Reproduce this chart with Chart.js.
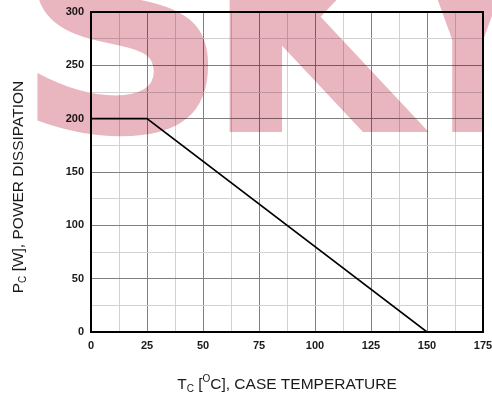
<!DOCTYPE html>
<html>
<head>
<meta charset="utf-8">
<script src="https://cdn.jsdelivr.net/npm/chart.js@4.4.0/dist/chart.umd.min.js"></script>
<style>
  html, body { margin: 0; padding: 0; background: #fff; }
  #wrap { width: 492px; height: 401px; }
</style>
</head>
<body>
<div id="wrap"><canvas id="derating"></canvas></div>
<script>
// derating curve: case temperature vs power dissipation
const caseTemp = [0, 25, 150];
const powerDiss = [200, 200, 0];
const xTickLabels = [0, 25, 50, 75, 100, 125, 150, 175];
const yTickLabels = [0, 50, 100, 150, 200, 250, 300];

const MAJOR = '#808080';
const MINOR = '#d2d2d2';
const PINK = '#e9b5bf';

// draw a string made of pieces (normal / sub / sup) starting at x
function drawPieces(ctx, pieces, x, y) {
    pieces.forEach(p => {
        ctx.font = p.font;
        ctx.fillText(p.text, x, y + (p.dy || 0));
        x += ctx.measureText(p.text).width;
    });
}
function piecesWidth(ctx, pieces) {
    let w = 0;
    pieces.forEach(p => { ctx.font = p.font; w += ctx.measureText(p.text).width; });
    return w;
}

const big = '15.5px "Liberation Sans", Arial, sans-serif';
const small = '10px "Liberation Sans", Arial, sans-serif';

const xTitle = [
    { text: 'T', font: big },
    { text: 'C', font: small, dy: 3 },
    { text: ' [', font: big },
    { text: 'O', font: small, dy: -7 },
    { text: 'C], CASE TEMPERATURE', font: big }
];
const yTitle = [
    { text: 'P', font: big },
    { text: 'C', font: small, dy: 3 },
    { text: ' [W], POWER DISSIPATION', font: big }
];

// big watermark letters: left x and horizontal squeeze
const watermark = [
    { ch: 'S', x: 14, sx: 1 },
    { ch: 'K', x: 204, sx: 0.93 },
    { ch: 'Y', x: 408, sx: 0.55 }
];

const paperPlugin = {
    id: 'paper',
    beforeDraw(chart) {
        const ctx = chart.ctx;
        ctx.save();
        ctx.fillStyle = '#fff';
        ctx.fillRect(0, 0, chart.width, chart.height);
        ctx.restore();
    },
    afterDraw(chart) {
        const ctx = chart.ctx;
        const a = chart.chartArea;
        // frame around plot
        ctx.save();
        ctx.strokeStyle = '#000';
        ctx.lineWidth = 2;
        ctx.strokeRect(a.left, a.top, a.right - a.left, a.bottom - a.top);
        ctx.restore();

        // axis titles
        ctx.save();
        ctx.fillStyle = '#1a1a1a';
        ctx.textBaseline = 'alphabetic';
        const wx = piecesWidth(ctx, xTitle);
        drawPieces(ctx, xTitle, (a.left + a.right) / 2 - wx / 2, 389);
        ctx.translate(23, 187);
        ctx.rotate(-Math.PI / 2);
        const wy = piecesWidth(ctx, yTitle);
        drawPieces(ctx, yTitle, -wy / 2, 0);
        ctx.restore();

        // watermark, multiplied over everything
        watermark.forEach(w => {
            ctx.save();
            ctx.globalCompositeOperation = 'multiply';
            ctx.fillStyle = PINK;
            ctx.font = 'bold 300px "DejaVu Sans", sans-serif';
            ctx.textBaseline = 'alphabetic';
            ctx.translate(w.x, 132);
            ctx.scale(w.sx, 1);
            ctx.fillText(w.ch, 0, 0);
            ctx.restore();
        });
    }
};

new Chart(document.getElementById('derating'), {
    type: 'line',
    data: {
        datasets: [{
            data: caseTemp.map((t, i) => ({ x: t, y: powerDiss[i] })),
            borderColor: '#000',
            borderWidth: 1.6,
            pointRadius: 0,
            tension: 0,
            fill: false
        }]
    },
    options: {
        responsive: true,
        maintainAspectRatio: false,
        animation: false,
        layout: { padding: { left: 0, right: 9, top: 12, bottom: 0 } },
        plugins: { legend: { display: false }, tooltip: { enabled: false } },
        scales: {
            x: {
                type: 'linear',
                min: 0,
                max: 175,
                afterFit: s => { s.height = 69; s.paddingLeft = 0; s.paddingRight = 0; },
                border: { color: '#000', width: 2 },
                grid: {
                    drawTicks: false,
                    color: c => (c.tick && c.tick.value % 25 === 0) ? MAJOR : MINOR
                },
                ticks: {
                    stepSize: 12.5,
                    autoSkip: false,
                    maxRotation: 0,
                    padding: 7,
                    color: '#1a1a1a',
                    font: { family: '"Liberation Sans", Arial, sans-serif', size: 11, weight: 'bold' },
                    callback: v => xTickLabels.includes(v) ? String(v) : ''
                }
            },
            y: {
                type: 'linear',
                min: 0,
                max: 300,
                afterFit: s => { s.width = 91; s.paddingTop = 0; s.paddingBottom = 0; },
                border: { color: '#000', width: 2 },
                grid: {
                    drawTicks: false,
                    color: c => (c.tick && c.tick.value % 50 === 0) ? MAJOR : MINOR
                },
                ticks: {
                    stepSize: 25,
                    autoSkip: false,
                    padding: 7,
                    color: '#1a1a1a',
                    font: { family: '"Liberation Sans", Arial, sans-serif', size: 11, weight: 'bold' },
                    callback: v => yTickLabels.includes(v) ? String(v) : ''
                }
            }
        }
    },
    plugins: [paperPlugin]
});
</script>
</body>
</html>
